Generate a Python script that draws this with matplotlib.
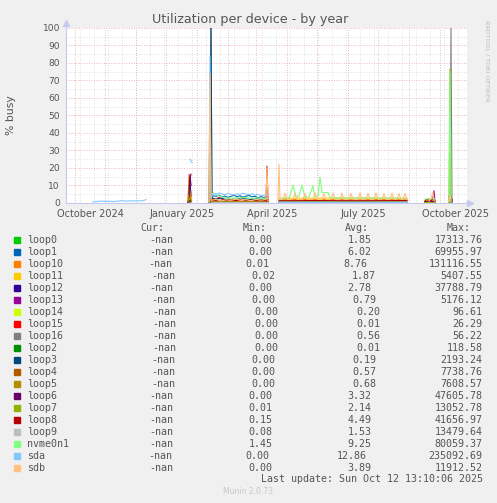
import numpy as np
import pandas as pd
import matplotlib
matplotlib.use("Agg")
import matplotlib.pyplot as plt
from matplotlib.lines import Line2D
from matplotlib.patches import Rectangle

# day offsets are counted from this date, values are % busy
base = pd.Timestamp("2024-09-07")

names = ["loop0", "loop1", "loop10", "loop11", "loop12", "loop13", "loop14", "loop15", "loop16", "loop2",
         "loop3", "loop4", "loop5", "loop6", "loop7", "loop8", "loop9", "nvme0n1", "sda", "sdb"]
colors = ["#00CC00", "#0066B3", "#FF8000", "#FFCC00", "#330099", "#990099", "#CCFF00", "#FF0000", "#808080", "#008F00",
          "#00487D", "#B35A00", "#B38F00", "#6B006B", "#8FB300", "#B30000", "#BEBEBE", "#80FF80", "#80C9FF", "#FFC080"]

min_vals = [0.00, 0.00, 0.01, 0.02, 0.00, 0.00, 0.00, 0.00, 0.00, 0.00,
            0.00, 0.00, 0.00, 0.00, 0.01, 0.15, 0.08, 1.45, 0.00, 0.00]
avg_vals = [1.85, 6.02, 8.76, 1.87, 2.78, 0.79, 0.20, 0.01, 0.56, 0.01,
            0.19, 0.57, 0.68, 3.32, 2.14, 4.49, 1.53, 9.25, 12.86, 3.89]
max_vals = [17313.76, 69955.97, 131116.55, 5407.55, 37788.79, 5176.12, 96.61, 26.29, 56.22, 118.58,
            2193.24, 7738.76, 7608.57, 47605.78, 13052.78, 41656.97, 13479.64, 80059.37, 235092.69, 11912.52]

loop0_day = [122, 123, 124, 125, 126, 145, 148, 152, 158, 165, 172, 180, 188, 195, 202, 203,
             213, 240, 270, 300, 341, 342, 359, 369, 370, 383, 386]
loop0_pct = [0.5, 1.5, 2.5, 1.0, None, 0.5, 1.0, 0.6, 0.8, 0.5, 0.9, 0.6, 0.7, 0.5, 0.6, None,
             0.3, 0.4, 0.3, 0.4, 0.3, None, 0.5, 0.6, None, 0.5, 0.5]

loop1_day = [145, 147, 150, 153, 156, 159, 162, 165, 168, 171, 174, 177, 180, 183, 186, 189, 192, 195, 198, 201, 202, 203,
             213, 341, 342, 359, 369]
loop1_pct = [2.0, 4.2, 3.8, 4.5, 3.5, 4.0, 3.2, 3.8, 4.4, 3.6, 4.1, 3.3, 3.9, 4.3, 3.5, 3.9, 3.0, 3.6, 3.2, 3.5, 2.0, None,
             0.2, 0.2, None, 0.3, 0.3]

loop10_day = [122, 123, 124, 125, 126, 143, 144, 145, 148, 152, 156, 160, 165, 170, 175, 180, 185, 190, 195, 200, 202, 203,
              213, 230, 250, 270, 290, 310, 330, 341, 342, 359, 369]
loop10_pct = [0.5, 16.5, 9.0, 3.0, None, 0.5, 74.0, 1.5, 1.2, 0.8, 1.5, 1.0, 1.3, 0.8, 1.4, 0.9, 1.2, 0.8, 1.1, 1.0, 0.8, None,
              1.8, 2.0, 1.9, 2.1, 1.8, 2.0, 1.9, 1.8, None, 1.0, 1.2]

loop11_day = [122, 123, 124, 125, 126, 145, 150, 155, 160, 165, 170, 175, 180, 185, 190, 195, 200, 202, 203,
              213, 240, 270, 300, 341, 342, 359, 369, 370, 383, 386]
loop11_pct = [1.0, 5.0, 8.7, 6.0, None, 1.5, 1.8, 1.2, 1.6, 1.9, 1.3, 1.7, 1.4, 1.8, 1.2, 1.6, 1.4, 1.2, None,
              2.8, 2.7, 2.9, 2.8, 2.7, None, 1.5, 1.6, None, 1.0, 1.0]

loop12_day = [122, 123, 124, 125, 126, 143, 144, 145, 150, 170, 202, 203, 213, 341]
loop12_pct = [0.5, 2.0, 12.3, 4.0, None, 0.0, 14.0, 0.3, 0.3, 0.4, 0.3, None, 0.2, 0.2]

loop13_day = [122, 123, 124, 125, 126, 145, 160, 180, 202, 203, 213, 341, 342,
              359, 365, 367, 368, 369, 370, 383, 384, 385, 386]
loop13_pct = [0.5, 3.0, 14.0, 16.5, None, 0.5, 0.6, 0.4, 0.5, None, 0.3, 0.3, None,
              0.5, 1.0, 3.0, 7.0, 0.5, None, 4.0, 2.0, 4.5, 1.0]

loop14_day = [123, 124, 125, 126, 145, 202, 203, 213, 341]
loop14_pct = [1.0, 3.0, 1.0, None, 0.2, 0.2, None, 0.1, 0.1]

loop15_day = [123, 124, 125, 126, 145, 147, 150, 153, 156, 159, 162, 165, 168, 171, 174, 177, 180, 183, 186, 189,
              192, 195, 198, 201, 202, 203, 213, 341]
loop15_pct = [2.0, 5.0, 1.0, None, 1.0, 2.8, 2.0, 3.2, 2.2, 1.5, 2.0, 1.4, 1.9, 1.2, 1.8, 1.3, 1.6, 1.1, 1.7, 1.2,
              1.5, 1.0, 1.4, 1.2, 1.0, None, 0.1, 0.1]

loop16_day = [144, 145, 146, 147, 384, 385, 386]
loop16_pct = [0.0, 100.0, 0.5, None, 0.0, 100.0, 0.0]

loop2_day = [123, 124, 125, 126, 145, 202, 203, 213, 341]
loop2_pct = [1.0, 2.0, 0.5, None, 0.3, 0.3, None, 0.2, 0.2]

loop3_day = [144, 145, 146, 150, 155, 160, 165, 170, 175, 180, 185, 190, 195, 200, 202, 203, 213, 341]
loop3_pct = [0.0, 100.0, 2.5, 2.2, 2.8, 2.0, 2.5, 2.1, 2.7, 2.3, 2.0, 2.4, 2.1, 2.3, 2.0, None, 0.4, 0.4]

loop4_day = [123, 124, 125, 143, 144, 145, 170, 202, 203, 213, 341]
loop4_pct = [1.0, 0.5, None, 0.0, 33.0, 0.5, 0.6, 0.5, None, 0.3, 0.3]

loop5_day = [122, 123, 124, 125, 126, 143, 144, 145, 170, 202, 203, 213, 341]
loop5_pct = [1.0, 10.0, 6.0, 2.0, None, 0.0, 48.0, 0.6, 0.8, 0.5, None, 0.5, 0.5]

loop6_day = [123, 124, 125, 126, 145, 202, 203, 213, 341, 342, 359, 369, 370, 383, 385, 386]
loop6_pct = [5.0, 16.0, 10.0, None, 0.3, 0.3, None, 0.2, 0.2, None, 0.8, 1.0, None, 3.0, 3.5, 1.0]

loop7_day = [123, 124, 125, 145, 202, 203, 213, 240, 270, 275, 277, 341, 342, 359, 369, 370, 383, 384, 385]
loop7_pct = [2.0, 3.0, None, 0.4, 0.4, None, 0.5, 0.4, 0.6, 1.0, 0.5, 0.5, None, 0.3, 0.3, None, 0.0, 76.5, 0.5]

loop8_day = [123, 124, 125, 145, 200, 201, 202, 203, 213, 250, 290, 341, 342,
             359, 360, 364, 367, 369, 370, 383, 386]
loop8_pct = [0.5, 1.0, None, 1.5, 1.5, 21.0, 1.5, None, 1.3, 1.4, 1.3, 1.4, None,
             1.0, 2.0, 1.5, 2.0, 1.2, None, 2.0, 2.0]

loop9_day = [145, 202, 203, 213, 341]
loop9_pct = [0.3, 0.3, None, 0.5, 0.5]

nvme_day = [145, 147, 150, 153, 156, 160, 165, 170, 175, 180, 185, 190, 195, 200, 202, 203,
            213, 222, 224, 227, 230, 233, 236, 239, 243, 247, 249, 252, 254, 256, 262, 264, 280, 300, 320, 341, 342,
            359, 363, 369, 370, 382, 383, 384, 385, 386]
nvme_pct = [3.0, 5.5, 5.0, 4.0, 3.5, 3.0, 2.5, 3.0, 2.8, 3.2, 2.5, 3.0, 2.6, 2.8, 2.5, None,
            2.5, 2.8, 4.0, 10.2, 3.5, 4.0, 10.2, 3.2, 3.5, 9.8, 3.5, 4.0, 14.8, 6.0, 6.0, 3.0, 2.7, 2.9, 2.8, 2.6, None,
            2.2, 2.5, 2.3, None, 1.0, 1.0, 75.0, 2.0, None]

sda_day = [27, 31, 35, 39, 43, 47, 51, 55, 59, 63, 67, 71, 75, 78, 80, 81,
           124, 125, 126, 127,
           143, 144, 145, 147, 150, 153, 156, 159, 162, 165, 168, 171, 174, 177, 180, 183, 186, 189, 192, 195, 198, 201,
           202, 203, 213, 341, 342]
sda_pct = [0.5, 0.9, 1.1, 0.9, 1.0, 0.8, 1.0, 1.3, 1.1, 1.2, 1.2, 1.3, 1.2, 1.5, 1.9, None,
           25.0, 24.0, 23.0, None,
           0.5, 84.0, 3.0, 5.5, 5.0, 5.8, 5.2, 4.8, 5.5, 5.0, 4.6, 5.2, 4.9, 5.6, 5.1, 4.7, 5.3, 4.5, 5.0, 4.2, 4.6, 5.0,
           4.5, None, 0.4, 0.4, None]

sdb_day = [143, 144, 145, 150, 155, 160, 165, 170, 175, 180, 185, 190, 195, 200, 201, 202, 203,
           212, 213, 214, 217, 219, 221, 227, 229, 231, 237, 239, 241, 247, 249, 251, 256, 258, 260,
           265, 267, 269, 274, 276, 278, 283, 285, 287, 292, 294, 296, 300, 302, 304, 308, 310, 312,
           316, 318, 320, 324, 326, 328, 331, 333, 335, 337, 339, 341, 342,
           363, 365, 367, 368, 369, 370, 383, 384, 385]
sdb_pct = [1.0, 74.0, 1.5, 2.0, 1.2, 1.8, 1.5, 2.2, 1.4, 1.9, 1.3, 2.0, 1.6, 2.0, 20.5, 1.5, None,
           2.0, 22.3, 2.0, 2.1, 5.6, 2.0, 2.2, 5.8, 2.0, 2.1, 5.5, 2.0, 2.2, 5.9, 2.1, 2.0, 5.4, 2.0,
           2.2, 5.7, 2.1, 2.0, 5.8, 2.0, 2.2, 5.5, 2.1, 2.0, 5.9, 2.0, 2.2, 5.6, 2.0, 2.1, 5.8, 2.0,
           2.2, 5.4, 2.0, 2.1, 5.7, 2.0, 2.2, 5.5, 2.0, 2.1, 5.6, 2.0, None,
           1.0, 2.5, 6.0, 1.5, 1.0, None, 1.0, 4.5, 1.0]

series = [(loop0_day, loop0_pct), (loop1_day, loop1_pct), (loop10_day, loop10_pct), (loop11_day, loop11_pct),
          (loop12_day, loop12_pct), (loop13_day, loop13_pct), (loop14_day, loop14_pct), (loop15_day, loop15_pct),
          (loop16_day, loop16_pct), (loop2_day, loop2_pct), (loop3_day, loop3_pct), (loop4_day, loop4_pct),
          (loop5_day, loop5_pct), (loop6_day, loop6_pct), (loop7_day, loop7_pct), (loop8_day, loop8_pct),
          (loop9_day, loop9_pct), (nvme_day, nvme_pct), (sda_day, sda_pct), (sdb_day, sdb_pct)]

tick_dates = ["2024-10-01", "2025-01-01", "2025-04-01", "2025-07-01", "2025-10-01"]
tick_labels = ["October 2024", "January 2025", "April 2025", "July 2025", "October 2025"]

W, H = 497, 503
TXT = "#555555"
AXIS = "#C8C8F0"


def fx(x):
    return x / W


def fy(y):
    return 1 - y / H


fig = plt.figure(figsize=(W / 100, H / 100), dpi=100, facecolor="#F0F0F0")
ax = fig.add_axes([fx(66), fy(203), (467 - 66) / W, (203 - 28) / H])
ax.set_facecolor("white")
x0 = base
x1 = base + pd.Timedelta(days=401)
ax.set_xlim(x0, x1)
ax.set_ylim(0, 100)

# grid, rrdtool style dotted lines
for y in range(5, 100, 10):
    ax.axhline(y, color="#D6D6D6", lw=0.6, ls=(0, (1, 2)), zorder=0.5)
for y in range(10, 101, 10):
    ax.axhline(y, color="#EAA0A0", lw=0.6, ls=(0, (1, 2)), zorder=0.6)
for d in pd.date_range("2024-09-21", periods=30, freq="14D"):
    if d < x1:
        ax.axvline(d, color="#D6D6D6", lw=0.6, ls=(0, (1, 2)), zorder=0.5)
for d in pd.date_range("2024-09-01", "2025-10-01", freq="MS") + pd.Timedelta(days=15):
    if x0 < d < x1:
        ax.axvline(d, color="#EAA0A0", lw=0.6, ls=(0, (1, 2)), zorder=0.6)

for (days, vals), col in zip(series, colors):
    t = base + pd.to_timedelta(np.array(days, dtype=float), unit="D")
    v = np.array([np.nan if a is None else a for a in vals], dtype=float)
    ax.plot(t, v, color=col, lw=0.8, zorder=2)

for s in ax.spines.values():
    s.set_visible(False)
ax.set_xticks(pd.to_datetime(tick_dates))
ax.set_xticklabels(tick_labels)
ax.set_yticks(range(0, 101, 10))
ax.tick_params(axis="x", length=0, pad=4, labelsize=7, labelcolor=TXT)
ax.tick_params(axis="y", length=0, pad=4.3, labelsize=6.6, labelcolor=TXT)

# axes with arrows
fig.add_artist(Line2D([fx(66), fx(66)], [fy(203), fy(24)], color=AXIS, lw=0.8))
fig.add_artist(Line2D([fx(66), fx(469)], [fy(203), fy(203)], color=AXIS, lw=0.8))
fig.add_artist(Line2D([fx(66)], [fy(23)], marker="^", markersize=4.5, color=AXIS, lw=0))
fig.add_artist(Line2D([fx(470)], [fy(203)], marker=">", markersize=4.5, color=AXIS, lw=0))

fig.text(fx(250), fy(19), "Utilization per device - by year", ha="center", va="center",
         fontsize=9.2, color=TXT)
fig.text(fx(11), fy(115), "% busy", rotation=90, ha="center", va="center", fontsize=7.8, color=TXT)
fig.text(fx(487), fy(61), "RRDTOOL / TOBI OETIKER", rotation=270, ha="center", va="center",
         fontsize=4.6, color="#BBBBBB")

# legend, justified like rrdtool does it
mono = "DejaVu Sans Mono"
cw = 6.02
left, right = 26.7, 482.5
for txt, x in zip(["Cur:", "Min:", "Avg:", "Max:"], [140, 243, 345, 447]):
    fig.text(fx(x), fy(227.5), txt, family=mono, fontsize=7.2, color=TXT, ha="left", va="center")

for i, name in enumerate(names):
    yc = 240 + 12 * i
    fig.add_artist(Rectangle((fx(14), fy(yc + 3)), 6 / W, 6 / H, color=colors[i], transform=fig.transFigure))
    parts = [name.ljust(8), "%6s" % "-nan", "%6.2f" % min_vals[i], "%6.2f" % avg_vals[i], "%6.2f" % max_vals[i]]
    total = sum(len(p) for p in parts) * cw
    gap = (right - left - total) / (len(parts) - 1)
    x = left
    for p in parts:
        lead = len(p) - len(p.lstrip())
        fig.text(fx(x + lead * cw), fy(yc), p.strip(), family=mono, fontsize=7.2, color=TXT,
                 ha="left", va="center")
        x += len(p) * cw + gap

fig.text(fx(483), fy(479.5), "Last update: Sun Oct 12 13:10:06 2025", family=mono, fontsize=7.2,
         color=TXT, ha="right", va="center")
fig.text(fx(248), fy(492), "Munin 2.0.73", fontsize=5.5, color="#C8C8C8", ha="center", va="center")

fig.savefig("out.png", dpi=100, facecolor=fig.get_facecolor())
